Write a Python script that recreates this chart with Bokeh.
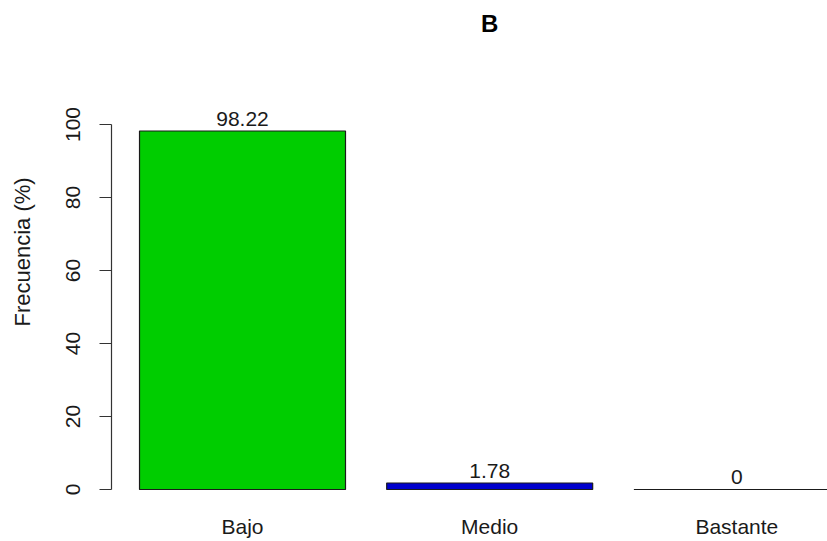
import math
from bokeh.plotting import figure
from bokeh.models import Range1d, FixedTicker, ColumnDataSource
from bokeh.core.properties import value
from bokeh.embed import file_html
from bokeh.resources import INLINE

categories = ["Bajo", "Medio", "Bastante"]
frecuencia = [98.22, 1.78, 0]
colores = ["#00CD00", "#0000CD", "#BEBEBE"]
y_ticks = [0, 20, 40, 60, 80, 100]
titulo = "B"

FONT = "Liberation Sans"
bar_w = 1.0
space = 0.2
centers = [space + bar_w / 2 + i * (bar_w + space) for i in range(len(categories))]

p = figure(width=827, height=541, output_backend="svg", toolbar_location=None,
           x_range=Range1d(0.064, 3.54), y_range=Range1d(-3.84, 133.97),
           min_border_left=111, min_border_right=0, min_border_top=0, min_border_bottom=38)
p.outline_line_color = None
p.grid.visible = False
p.background_fill_color = "white"

src = ColumnDataSource(dict(x=centers, top=frecuencia, color=colores, cat=categories,
                            lab=[f"{v:g}" for v in frecuencia]))
p.vbar(x="x", top="top", bottom=0, width=bar_w, fill_color="color",
       line_color="#1a1a1a", line_width=1.2, source=src)
p.text(x="x", y="top", text="lab", source=src, text_align="center",
       text_baseline="bottom", y_offset=-5, text_font=value(FONT),
       text_font_size="21px", text_color="#1a1a1a")

# title centered over the (extended) plot region
p.text(x=[(0.064 + 3.736) / 2], y=[127.7], text=[titulo], text_align="center",
       text_baseline="middle", text_font=value(FONT), text_font_size="24px",
       text_font_style="bold", text_color="black")

# y axis
ya = p.yaxis[0]
ya.bounds = (0, 100)
ya.ticker = FixedTicker(ticks=y_ticks)
ya.minor_tick_line_color = None
ya.major_tick_out = 12
ya.major_tick_in = 0
ya.axis_line_color = "#333333"
ya.major_tick_line_color = "#333333"
ya.axis_line_width = 1.2
ya.major_tick_line_width = 1.2
ya.major_label_orientation = "vertical"
ya.major_label_text_font = FONT
ya.major_label_text_font_size = "21px"
ya.major_label_text_color = "#1a1a1a"
ya.major_label_standoff = 19
ya.axis_label = "Frecuencia (%)"
ya.axis_label_text_font = FONT
ya.axis_label_text_font_size = "22px"
ya.axis_label_text_font_style = "normal"
ya.axis_label_text_color = "#1a1a1a"
ya.axis_label_standoff = 29

# x axis (category names only)
xa = p.xaxis[0]
xa.ticker = FixedTicker(ticks=centers)
xa.major_label_overrides = {c: n for c, n in zip(centers, categories)}
xa.axis_line_color = None
xa.major_tick_line_color = None
xa.minor_tick_line_color = None
xa.major_tick_out = 0
xa.major_tick_in = 0
xa.major_label_standoff = 11
xa.major_label_text_font = FONT
xa.major_label_text_font_size = "21px"
xa.major_label_text_color = "#1a1a1a"

open("out.html", "w").write(file_html(p, INLINE))
